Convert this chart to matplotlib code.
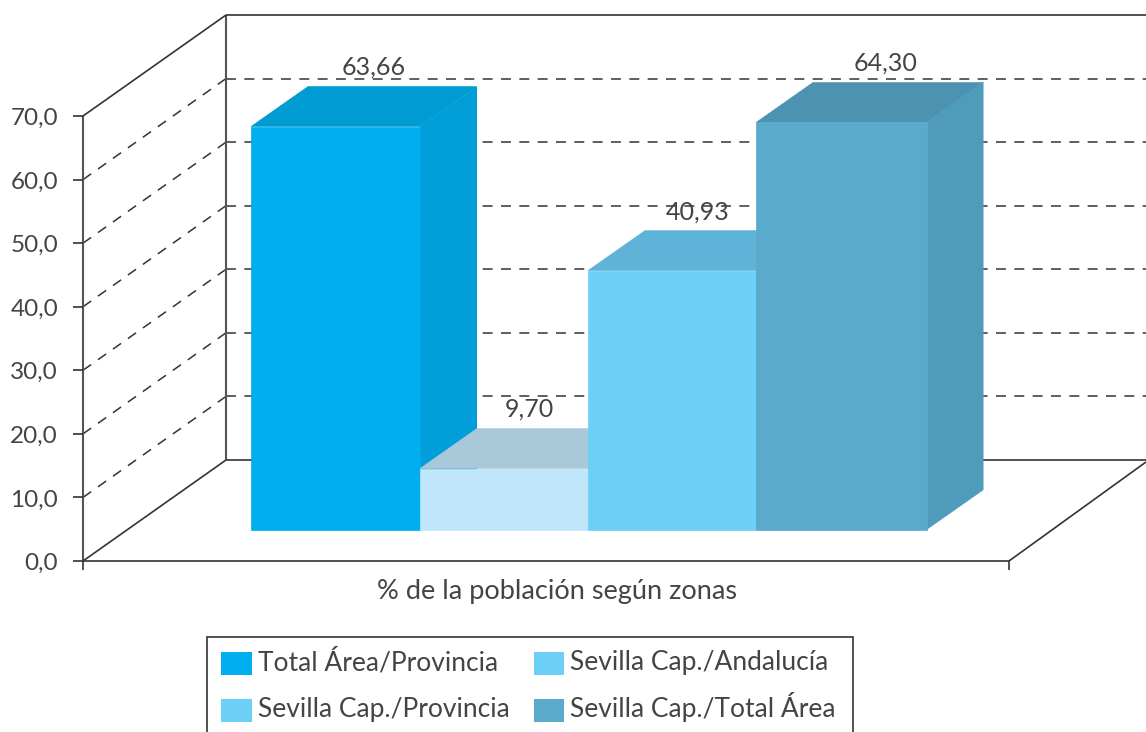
import matplotlib
matplotlib.use('Agg')
import matplotlib.pyplot as plt
from matplotlib.patches import Polygon, Rectangle

plt.rcParams['font.family'] = ['Lato', 'DejaVu Sans']

zonas = ['Total Área/Provincia', 'Sevilla Cap./Provincia', 'Sevilla Cap./Andalucía', 'Sevilla Cap./Total Área']
valores = [63.66, 9.70, 40.93, 64.30]
etiquetas = ['63,66', '9,70', '40,93', '64,30']
ticks = [0, 10, 20, 30, 40, 50, 60, 70]
tick_labels = ['0,0', '10,0', '20,0', '30,0', '40,0', '50,0', '60,0', '70,0']

frente = ['#00aeef', '#bfe6fa', '#6bcff6', '#5aaacb']
arriba = ['#009bd2', '#a9c9db', '#5fb3d8', '#4b93b0']
lado = ['#009fd9', '#a9c9db', '#5fb3d8', '#4f9bbb']
leyenda_col = ['#00aeef', '#6bcff6', '#6bcff6', '#5aaacb']

W, H = 1146, 732
PX = 6.357          # px per unit on the y axis
Y0 = 561            # pixel row of value 0 on the front plane
TXT = '#444444'


def u(px):
    # pixel distance -> y units
    return px / PX


def row(px):
    # pixel row -> y value
    return (Y0 - px) / PX


fig = plt.figure(figsize=(W / 100, H / 100), dpi=100)
ax = fig.add_axes([0, 0, 1, 1])
ax.set_xlim(0, W)
ax.set_ylim(row(H), row(0))
ax.axis('off')

# walls
x_front, x_back = 83, 226
dy_wall = u(101)
x_fin, x_fin_front = 1146, 1009

for t in ticks[1:-1]:
    ax.plot([x_front, x_back], [t, t + dy_wall], color='#333333', lw=1.1, dashes=(6.5, 5.5))
    ax.plot([x_back, x_fin], [t + dy_wall, t + dy_wall], color='#333333', lw=1.1, dashes=(6.5, 5.5))

linea = dict(color='#333333', lw=1.2, solid_capstyle='butt')
ax.plot([x_front, x_front], [0, 70], **{**linea, 'color': '#555555', 'lw': 1.5})
ax.plot([x_back, x_back], [dy_wall, 70 + dy_wall], **{**linea, 'color': '#555555', 'lw': 1.5})
ax.plot([x_front, x_back], [70, 70 + dy_wall], **linea)
ax.plot([x_back, x_fin], [70 + dy_wall, 70 + dy_wall], **linea)
ax.plot([x_front, x_back], [0, dy_wall], **linea)
ax.plot([x_back, x_fin], [dy_wall, dy_wall], **linea)
ax.plot([x_front, x_fin_front], [0, 0], **linea)
ax.plot([x_fin_front, x_fin], [0, u(99)], **linea)
ax.plot([x_fin_front, x_fin_front], [0, -u(9)], **linea)
ax.plot([x_front, x_front], [0, -u(9)], **linea)

for t, lab in zip(ticks, tick_labels):
    ax.plot([x_front - 10, x_front], [t, t], **linea)
    ax.text(58, t - u(2.5), lab, ha='right', va='center', fontsize=17.5, color=TXT)

# bars
bordes = [251, 420, 588, 756, 926.5]
base = u(31)
esc = 0.997
dx, dy = 57, u(40)
label_x = [374, 529, 698, 886]

for i, v in enumerate(valores):
    x0, x1 = bordes[i], bordes[i + 1]
    top = base + v * esc
    ax.add_patch(Polygon([(x1, base), (x1 + dx, base + dy), (x1 + dx, top + dy), (x1, top)],
                         fc=lado[i], ec='none', zorder=3))
    ax.add_patch(Polygon([(x0, top), (x0 + dx, top + dy), (x1 + dx, top + dy), (x1, top)],
                         fc=arriba[i], ec=arriba[i], lw=0.4, zorder=3))
    ax.add_patch(Rectangle((x0, base), x1 - x0, v * esc, fc=frente[i], ec=frente[i], lw=0.5, zorder=3))
    ax.text(label_x[i], top + dy + u(19), etiquetas[i], ha='center', va='center',
            fontsize=18, color=TXT, zorder=4)

ax.text(557, row(591), '% de la población según zonas', ha='center', va='center', fontsize=19.5, color=TXT)

# legend, its bottom edge runs off the picture
ax.add_patch(Rectangle((206.5, row(H + 20)), 646.5, row(636.5) - row(H + 20), fc='white', ec='#333333', lw=1.2))
filas = [(652, 675), (699, 722), (652, 675), (699, 722)]
cols = [(221, 252, 258), (221, 252, 258), (534, 564, 570), (534, 564, 570)]
for nombre, c, f, k in zip(zonas, leyenda_col, filas, cols):
    ax.add_patch(Rectangle((k[0], row(f[1])), k[1] - k[0], u(f[1] - f[0]), fc=c, ec='none'))
    ax.text(k[2], row(f[1] - 5), nombre, ha='left', va='baseline', fontsize=19, color=TXT)

fig.savefig('out.png', dpi=100)
